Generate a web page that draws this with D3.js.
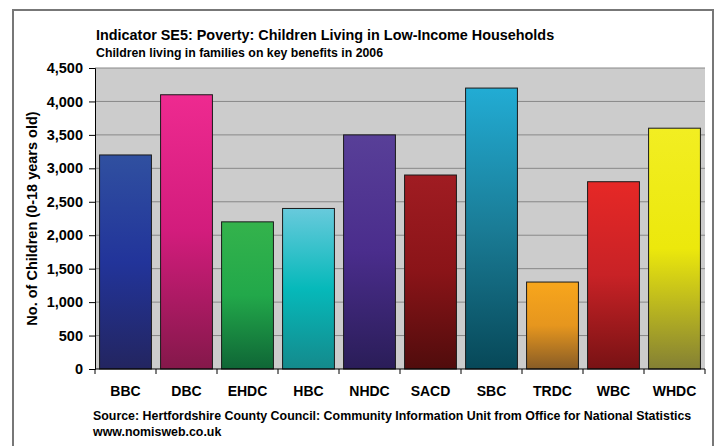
<!DOCTYPE html>
<html>
<head>
<meta charset="utf-8">
<script src="https://cdn.jsdelivr.net/npm/d3@7"></script>
<style>
  body { margin: 0; background: #fff; }
  svg { font-family: "Liberation Sans", Arial, sans-serif; }
</style>
</head>
<body>
<div id="chart"></div>
<script>
// Data
const districts = ['BBC', 'DBC', 'EHDC', 'HBC', 'NHDC', 'SACD', 'SBC', 'TRDC', 'WBC', 'WHDC'];
const children = [3200, 4100, 2200, 2400, 3500, 2900, 4200, 1300, 2800, 3600];
const yTicks = [0, 500, 1000, 1500, 2000, 2500, 3000, 3500, 4000, 4500];

// gradient stops per bar: top, middle, bottom
const barColours = [
  ['#3050a0', '#22349a', '#232560'],
  ['#ee2a90', '#d21c7c', '#84184a'],
  ['#34b34c', '#22a84a', '#0f6636'],
  ['#68cadc', '#06b9ba', '#148a8c'],
  ['#583f98', '#4a2d8c', '#2a1d58'],
  ['#a01c22', '#8a1418', '#500c0c'],
  ['#22acd4', '#1a7c96', '#074858'],
  ['#f8a61c', '#e6961e', '#885c26'],
  ['#e62826', '#c82226', '#781214'],
  ['#f2ee22', '#ece80c', '#848034']
];

const W = 715, H = 446;
const margin = { left: 95, right: 10, top: 68, bottom: 77 };

const svg = d3.select('#chart').append('svg')
  .attr('width', W)
  .attr('height', H);

// outer frame
svg.append('rect')
  .attr('x', 13).attr('y', 10)
  .attr('width', 700).attr('height', 450)
  .attr('fill', '#fff')
  .attr('stroke', '#777')
  .attr('stroke-width', 2);

const x = d3.scaleBand()
  .domain(districts)
  .range([margin.left, W - margin.right])
  .paddingInner(0.15)
  .paddingOuter(0.075);

const y = d3.scaleLinear()
  .domain([0, 4500])
  .range([H - margin.bottom, margin.top]);

const defs = svg.append('defs');
barColours.forEach((c, i) => {
  const g = defs.append('linearGradient')
    .attr('id', 'grad' + i)
    .attr('x1', '0%').attr('y1', '0%')
    .attr('x2', '0%').attr('y2', '100%');
  g.append('stop').attr('offset', '0%').attr('stop-color', c[0]);
  g.append('stop').attr('offset', '50%').attr('stop-color', c[1]);
  g.append('stop').attr('offset', '100%').attr('stop-color', c[2]);
});

// plot background
svg.append('rect')
  .attr('x', margin.left)
  .attr('y', margin.top)
  .attr('width', W - margin.right - margin.left)
  .attr('height', y(0) - margin.top)
  .attr('fill', '#cccccc');

// gridlines
svg.append('g')
  .selectAll('line')
  .data(yTicks.filter(d => d > 0))
  .enter()
  .append('line')
  .attr('x1', margin.left)
  .attr('x2', W - margin.right)
  .attr('y1', d => y(d))
  .attr('y2', d => y(d))
  .attr('stroke', '#888')
  .attr('stroke-width', 1);

// bars
svg.append('g')
  .selectAll('rect')
  .data(children)
  .enter()
  .append('rect')
  .attr('x', (d, i) => x(districts[i]))
  .attr('y', d => y(d))
  .attr('width', x.bandwidth())
  .attr('height', d => y(0) - y(d))
  .attr('fill', (d, i) => `url(#grad${i})`)
  .attr('stroke', '#1a1a1a')
  .attr('stroke-width', 1);

// y axis
const yAxis = svg.append('g')
  .attr('transform', `translate(${margin.left},0)`)
  .call(d3.axisLeft(y).tickValues(yTicks).tickFormat(d3.format(',')).tickSize(6).tickPadding(6));
yAxis.select('.domain').attr('stroke', '#000');
yAxis.selectAll('text')
  .attr('font-size', 14.5)
  .attr('font-weight', 'bold')
  .attr('fill', '#000');

// x axis with ticks on band boundaries
const xAxis = svg.append('g')
  .attr('transform', `translate(0,${y(0)})`);
xAxis.append('line')
  .attr('x1', margin.left).attr('x2', W - margin.right)
  .attr('stroke', '#000');
const step = x.step();
xAxis.selectAll('.tk')
  .data(d3.range(districts.length + 1))
  .enter()
  .append('line')
  .attr('x1', i => margin.left + i * step)
  .attr('x2', i => margin.left + i * step)
  .attr('y1', 0).attr('y2', 5)
  .attr('stroke', '#000');
xAxis.selectAll('text')
  .data(districts)
  .enter()
  .append('text')
  .attr('x', d => x(d) + x.bandwidth() / 2)
  .attr('y', 27)
  .attr('text-anchor', 'middle')
  .attr('font-size', 14)
  .attr('font-weight', 'bold')
  .text(d => d);

// y axis title
svg.append('text')
  .attr('transform', `translate(37,${(y(0) + margin.top) / 2}) rotate(-90)`)
  .attr('text-anchor', 'middle')
  .attr('font-size', 14.5)
  .attr('font-weight', 'bold')
  .text('No. of Children (0-18 years old)');

// titles
svg.append('text')
  .attr('x', 96).attr('y', 40)
  .attr('font-size', 14.4)
  .attr('font-weight', 'bold')
  .text('Indicator SE5: Poverty: Children Living in Low-Income Households');
svg.append('text')
  .attr('x', 96).attr('y', 57)
  .attr('font-size', 12.3)
  .attr('font-weight', 'bold')
  .text('Children living in families on key benefits in 2006');

// source
svg.append('text')
  .attr('x', 93).attr('y', 420)
  .attr('font-size', 12.4)
  .attr('font-weight', 'bold')
  .text('Source: Hertfordshire County Council: Community Information Unit from Office for National Statistics');
svg.append('text')
  .attr('x', 93).attr('y', 436)
  .attr('font-size', 12.4)
  .attr('font-weight', 'bold')
  .text('www.nomisweb.co.uk');
</script>
</body>
</html>
